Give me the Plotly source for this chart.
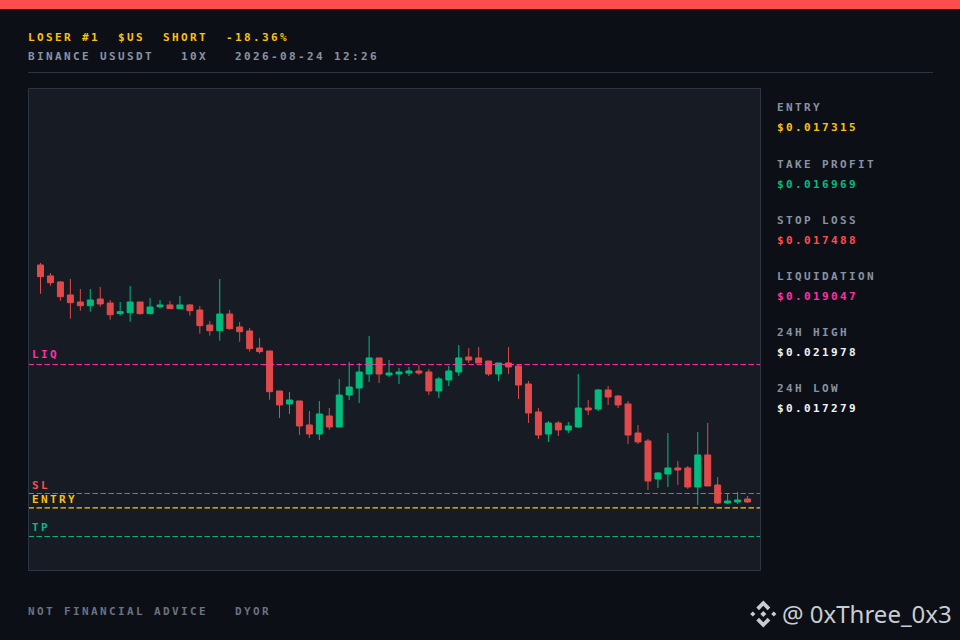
import plotly.graph_objects as go

# Candle values, oldest first
opens = [0.020249, 0.020117, 0.020044, 0.019887, 0.019802, 0.019757, 0.019838, 0.019790, 0.019661, 0.019673, 0.019802, 0.019661,
         0.019745, 0.019766, 0.019721, 0.019766, 0.019705, 0.019524, 0.019455, 0.019657, 0.019500, 0.019452, 0.019246, 0.019210,
         0.018727, 0.018570, 0.018606, 0.018316, 0.018207, 0.018425, 0.018292, 0.018678, 0.018763, 0.018932, 0.019126, 0.018920,
         0.018932, 0.018944, 0.018968, 0.018956, 0.018727, 0.018860, 0.018956, 0.019138, 0.019126, 0.019089, 0.018932, 0.019065,
         0.019029, 0.018811, 0.018473, 0.018207, 0.018340, 0.018256, 0.018292, 0.018521, 0.018509, 0.018739, 0.018666, 0.018570,
         0.018219, 0.018123, 0.017663, 0.017724, 0.017797, 0.017797, 0.017567, 0.017954, 0.017591, 0.017374, 0.017386, 0.017422]
highs = [0.020273, 0.020152, 0.020056, 0.020080, 0.019959, 0.019959, 0.019983, 0.019826, 0.019802, 0.019995, 0.019802, 0.019850,
         0.019826, 0.019814, 0.019874, 0.019778, 0.019754, 0.019572, 0.020080, 0.019705, 0.019560, 0.019488, 0.019367, 0.019210,
         0.018727, 0.018715, 0.018606, 0.018485, 0.018606, 0.018521, 0.018872, 0.019077, 0.019065, 0.019391, 0.019126, 0.019101,
         0.019005, 0.019017, 0.019041, 0.018993, 0.018896, 0.019029, 0.019283, 0.019246, 0.019258, 0.019089, 0.019065, 0.019258,
         0.019041, 0.018848, 0.018521, 0.018364, 0.018364, 0.018352, 0.018932, 0.018618, 0.018751, 0.018787, 0.018678, 0.018606,
         0.018316, 0.018147, 0.017748, 0.018219, 0.017881, 0.017821, 0.018231, 0.018340, 0.017688, 0.017482, 0.017507, 0.017458]
lows = [0.019902, 0.019999, 0.019818, 0.019600, 0.019697, 0.019685, 0.019745, 0.019588, 0.019637, 0.019564, 0.019648, 0.019661,
        0.019721, 0.019721, 0.019721, 0.019637, 0.019419, 0.019395, 0.019335, 0.019467, 0.019322, 0.019202, 0.019178, 0.018622,
        0.018401, 0.018449, 0.018195, 0.018159, 0.018135, 0.018256, 0.018292, 0.018618, 0.018582, 0.018836, 0.018824, 0.018896,
        0.018811, 0.018908, 0.018920, 0.018678, 0.018642, 0.018787, 0.018908, 0.019065, 0.019065, 0.018908, 0.018848, 0.018932,
        0.018630, 0.018340, 0.018147, 0.018111, 0.018183, 0.018219, 0.018280, 0.018437, 0.018485, 0.018558, 0.018521, 0.018087,
        0.018087, 0.017531, 0.017555, 0.017567, 0.017591, 0.017543, 0.017350, 0.017579, 0.017362, 0.017362, 0.017362, 0.017374]
closes = [0.020108, 0.020035, 0.019866, 0.019794, 0.019757, 0.019826, 0.019778, 0.019648, 0.019685, 0.019802, 0.019661, 0.019741,
          0.019766, 0.019721, 0.019766, 0.019697, 0.019516, 0.019455, 0.019657, 0.019479, 0.019443, 0.019238, 0.019202, 0.018718,
          0.018558, 0.018618, 0.018304, 0.018207, 0.018449, 0.018292, 0.018678, 0.018775, 0.018956, 0.019126, 0.018932, 0.018944,
          0.018956, 0.018968, 0.018944, 0.018727, 0.018872, 0.018968, 0.019126, 0.019101, 0.019065, 0.018932, 0.019065, 0.019017,
          0.018799, 0.018461, 0.018195, 0.018340, 0.018256, 0.018304, 0.018521, 0.018497, 0.018739, 0.018654, 0.018558, 0.018195,
          0.018111, 0.017639, 0.017736, 0.017797, 0.017772, 0.017567, 0.017954, 0.017579, 0.017374, 0.017398, 0.017410, 0.017386]

# Trade levels
entry = 0.017315
take_profit = 0.016969
stop_loss = 0.017488
liquidation = 0.019047
high_24h = 0.021978
low_24h = 0.017279

level_names = ["LIQ", "SL", "ENTRY", "TP"]
level_values = [liquidation, stop_loss, entry, take_profit]

panel_labels = ["ENTRY", "TAKE PROFIT", "STOP LOSS", "LIQUIDATION", "24H HIGH", "24H LOW"]
panel_values = [entry, take_profit, stop_loss, liquidation, high_24h, low_24h]

BG = "#0c0f16"
PLOT_BG = "#161b24"
BORDER = "#2d3542"
RED = "#ff4d4d"
CANDLE_RED = "#e04a4a"
GREEN = "#00bd7e"
AMBER = "#ffc107"
PINK = "#ff2fa8"
WHITE = "#f2f4f7"
GRAY = "#8a93a3"
FOOT_GRAY = "#6b7280"
MARK = "#c9ccd1"
PIXEL_FONT = "DejaVu Sans Mono"

W, H = 960, 640


def px_x(x):
    return x / W


def px_y(y):
    return 1 - y / H


def spaced(text):
    # the reference font is wide, so stretch the monospace glyphs to 9px per char
    return f'<b><span style="letter-spacing:2.38px">{text}</span></b>'


def label(fig, text, x, y, color, size=11):
    fig.add_annotation(text=spaced(text), x=px_x(x), y=px_y(y), xref="paper", yref="paper",
                       xanchor="left", yanchor="middle", showarrow=False, borderpad=0,
                       font=dict(family=PIXEL_FONT, size=size, color=color))


def poly(points, cx=763.3, cy=614):
    # logo pieces, given in pixels around the logo centre
    parts = [f"{px_x(cx + a):.5f},{px_y(cy + b):.5f}" for a, b in points]
    return "M" + " L".join(parts) + " Z"


fig = go.Figure()

fig.add_trace(go.Candlestick(
    x=list(range(len(opens))),
    open=opens, high=highs, low=lows, close=closes,
    increasing=dict(line=dict(color=GREEN, width=1), fillcolor=GREEN),
    decreasing=dict(line=dict(color=CANDLE_RED, width=1), fillcolor=CANDLE_RED),
    whiskerwidth=0,
    showlegend=False,
))

# Level lines
level_colors = [PINK, "#d9555a", AMBER, GREEN]
level_widths = [1, 1, 1.4, 1]
for value, color, width in zip(level_values, level_colors, level_widths):
    fig.add_shape(type="line", xref="paper", yref="y", x0=px_x(28.5), x1=px_x(760.5), y0=value, y1=value,
                  line=dict(color=color, width=width, dash="5.5px,2.5px"))

label_colors = [PINK, RED, AMBER, GREEN]
label_shift = [9.5, 8.5, 8.5, 8.5]
for name, value, color, shift in zip(level_names, level_values, label_colors, label_shift):
    fig.add_annotation(text=spaced(name), x=px_x(31), y=value, xref="paper", yref="y", yshift=shift,
                       xanchor="left", yanchor="middle", showarrow=False, borderpad=0,
                       font=dict(family=PIXEL_FONT, size=11, color=color))

# Top bar, header rule, chart frame
fig.add_shape(type="rect", xref="paper", yref="paper", x0=0, x1=1, y0=px_y(9), y1=1,
              fillcolor=RED, line=dict(width=0))
fig.add_shape(type="line", xref="paper", yref="paper", x0=px_x(28), x1=px_x(933), y0=px_y(72.5), y1=px_y(72.5),
              line=dict(color=BORDER, width=1))
fig.add_shape(type="rect", xref="paper", yref="paper", x0=px_x(28.5), x1=px_x(760.5), y0=px_y(570.5), y1=px_y(88.5),
              line=dict(color=BORDER, width=1), fillcolor="rgba(0,0,0,0)")

# Header
label(fig, "LOSER #1  $US  SHORT  -18.36%", 27, 38, AMBER)
label(fig, "BINANCE USUSDT   10X   2026-08-24 12:26", 27, 56, GRAY)

# Right panel
panel_colors = [AMBER, GREEN, RED, PINK, WHITE, WHITE]
for i, (name, value, color) in enumerate(zip(panel_labels, panel_values, panel_colors)):
    label(fig, name, 776, 108 + 56 * i, GRAY)
    label(fig, f"${value:.6f}", 776, 128 + 56 * i, color)

# Footer
label(fig, "NOT FINANCIAL ADVICE   DYOR", 27, 611.5, FOOT_GRAY)

# Watermark
logo_parts = [
    [(0, -13.5), (7, -6.5), (4.3, -3.8), (0, -8.2), (-4.3, -3.8), (-7, -6.5)],
    [(0, 13.5), (7, 6.5), (4.3, 3.8), (0, 8.2), (-4.3, 3.8), (-7, 6.5)],
    [(0, -3), (3, 0), (0, 3), (-3, 0)],
    [(-10.5, -2.6), (-7.9, 0), (-10.5, 2.6), (-13.1, 0)],
    [(10.5, -2.6), (13.1, 0), (10.5, 2.6), (7.9, 0)],
]
for part in logo_parts:
    fig.add_shape(type="path", xref="paper", yref="paper", path=poly(part),
                  fillcolor=MARK, line=dict(width=0))
fig.add_annotation(text="@ 0xThree_0x3", x=px_x(953), y=px_y(613.5), xref="paper", yref="paper",
                   xanchor="right", yanchor="middle", showarrow=False, borderpad=0,
                   font=dict(family="Noto Sans", size=24, color=MARK))

fig.update_layout(
    width=W, height=H,
    margin=dict(l=0, r=0, t=0, b=0),
    paper_bgcolor=BG,
    plot_bgcolor=PLOT_BG,
    showlegend=False,
    boxgap=0.3,
    boxgroupgap=0.14,
    xaxis=dict(domain=[px_x(28.5), px_x(760.5)], range=[-1.205, 72.30], visible=False, rangeslider=dict(visible=False)),
    yaxis=dict(domain=[px_y(570.5), px_y(88.5)], range=[0.016558, 0.022381], visible=False),
)

# page margin would push the chart 8px off the window edge
fig.write_html("out.html", config={"displayModeBar": False},
               post_script=f"document.body.style.margin='0';document.body.style.background='{BG}';")
